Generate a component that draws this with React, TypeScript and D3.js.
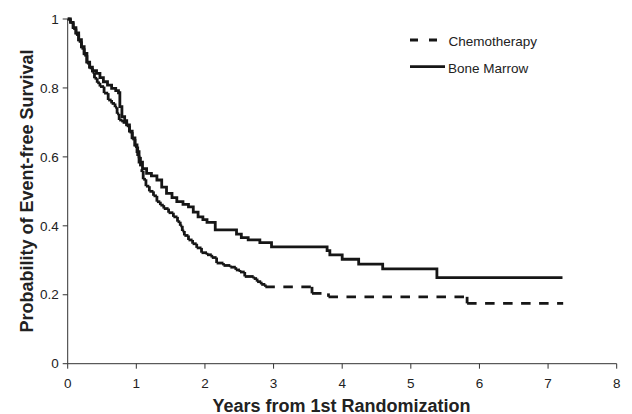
import * as d3 from "d3";

// Kaplan-Meier steps: at time t the survival drops to s
const bmTimes = [0, 0.04, 0.08, 0.12, 0.16, 0.2, 0.24, 0.28, 0.32, 0.36, 0.42, 0.47, 0.52, 0.58, 0.64, 0.7, 0.74, 0.76, 0.79, 0.83, 0.86, 0.9, 0.94, 0.98, 1.01, 1.04, 1.09, 1.15, 1.22, 1.3, 1.37, 1.44, 1.52, 1.59, 1.68, 1.76, 1.83, 1.9, 1.97, 2.03, 2.15, 2.46, 2.53, 2.63, 2.8, 2.97, 3.78, 3.82, 4.0, 4.24, 4.59, 5.38, 7.21];
const bmSurv = [1, 0.99, 0.975, 0.96, 0.94, 0.92, 0.9, 0.875, 0.86, 0.85, 0.842, 0.83, 0.818, 0.808, 0.799, 0.792, 0.786, 0.746, 0.717, 0.705, 0.693, 0.675, 0.655, 0.635, 0.615, 0.585, 0.566, 0.552, 0.545, 0.533, 0.512, 0.494, 0.482, 0.47, 0.462, 0.455, 0.44, 0.426, 0.418, 0.41, 0.388, 0.376, 0.366, 0.359, 0.351, 0.339, 0.328, 0.316, 0.303, 0.289, 0.275, 0.25, 0.25];

const chemoTimes = [0, 0.04, 0.08, 0.12, 0.16, 0.2, 0.24, 0.28, 0.32, 0.36, 0.39, 0.43, 0.47, 0.53, 0.59, 0.64, 0.69, 0.72, 0.75, 0.8, 0.86, 0.9, 0.94, 0.98, 1.02, 1.06, 1.1, 1.14, 1.19, 1.25, 1.3, 1.35, 1.4, 1.47, 1.54, 1.6, 1.64, 1.67, 1.7, 1.76, 1.82, 1.88, 1.95, 2.03, 2.1, 2.17, 2.27, 2.37, 2.45, 2.51, 2.58, 2.71, 2.76, 2.82, 2.88, 3.56, 3.8, 5.82, 7.22];
const chemoSurv = [1, 0.99, 0.972, 0.955, 0.935, 0.915, 0.895, 0.872, 0.858, 0.845, 0.828, 0.815, 0.804, 0.785, 0.765, 0.755, 0.744, 0.725, 0.707, 0.7, 0.69, 0.672, 0.652, 0.63, 0.6, 0.56, 0.535, 0.515, 0.5, 0.487, 0.47, 0.46, 0.45, 0.438, 0.426, 0.412, 0.4, 0.385, 0.372, 0.359, 0.348, 0.336, 0.322, 0.316, 0.308, 0.292, 0.285, 0.28, 0.272, 0.266, 0.253, 0.247, 0.238, 0.23, 0.223, 0.204, 0.194, 0.175, 0.175];

const xTicks = [0, 1, 2, 3, 4, 5, 6, 7, 8];
const yTicks = [0, 0.2, 0.4, 0.6, 0.8, 1];
const legendLabels = ["Chemotherapy", "Bone Marrow"];

const W = 632;
const H = 414;
const INK = "#161616";
const FONT = "'Liberation Sans', Arial, sans-serif";

export default function App() {
  const x = d3.scaleLinear().domain([0, 8]).range([67.7, 616.7]);
  const y = d3.scaleLinear().domain([0, 1]).range([363.7, 19]);

  const bmPts = bmTimes.map((t, i) => [t, bmSurv[i]] as [number, number]);
  const chemoPts = chemoTimes.map((t, i) => [t, chemoSurv[i]] as [number, number]);

  const stepLine = d3
    .line<[number, number]>()
    .x((d) => x(d[0]))
    .y((d) => y(d[1]))
    .curve(d3.curveStepAfter);

  // dashed curve: each step segment restarts the dash pattern (like the original)
  const chemoSegs: [number, number, number, number][] = [];
  for (let i = 0; i < chemoPts.length - 1; i++) {
    const [t0, s0] = chemoPts[i];
    const [t1, s1] = chemoPts[i + 1];
    chemoSegs.push([x(t0), y(s0), x(t1), y(s0)]);
    if (s1 !== s0) chemoSegs.push([x(t1), y(s0), x(t1), y(s1)]);
  }

  return (
    <svg
      width={W}
      height={H}
      style={{ position: "absolute", left: 0, top: 0, background: "#fff" }}
      fontFamily={FONT}
    >
      {/* axes */}
      <g stroke="#333" strokeWidth={1} fill="none">
        <line x1={x(0)} x2={x(0)} y1={y(1)} y2={y(0)} />
        <line x1={x(0)} x2={x(8)} y1={y(0)} y2={y(0)} />
        {yTicks.map((t) => (
          <line key={"yt" + t} x1={x(0) - 5} x2={x(0)} y1={y(t)} y2={y(t)} />
        ))}
        {xTicks.map((t) => (
          <line key={"xt" + t} x1={x(t)} x2={x(t)} y1={y(0)} y2={y(0) + 5} />
        ))}
      </g>
      <g fontSize={13.5} fill="#222">
        {yTicks.map((t) => (
          <text key={"yl" + t} x={x(0) - 9} y={y(t)} dy="0.35em" textAnchor="end">
            {String(t)}
          </text>
        ))}
        {xTicks.map((t) => (
          <text key={"xl" + t} x={x(t)} y={y(0) + 24} textAnchor="middle">
            {String(t)}
          </text>
        ))}
      </g>

      {/* curves */}
      <path d={stepLine(bmPts) || ""} fill="none" stroke={INK} strokeWidth={2.8} />
      <g stroke={INK} strokeWidth={2.8} strokeDasharray="9.5,8.5">
        {chemoSegs.map((s, i) => (
          <line key={i} x1={s[0]} y1={s[1]} x2={s[2]} y2={s[3]} />
        ))}
      </g>

      {/* legend */}
      <line x1={410} x2={437} y1={40} y2={40} stroke={INK} strokeWidth={2.8} strokeDasharray="8,11" />
      <text x={448.5} y={46} fontSize={13.5} fill="#222">{legendLabels[0]}</text>
      <line x1={410} x2={445} y1={66.7} y2={66.7} stroke={INK} strokeWidth={2.8} />
      <text x={448} y={72.5} fontSize={13.5} fill="#222">{legendLabels[1]}</text>

      {/* axis titles */}
      <text x={341.5} y={411.5} textAnchor="middle" fontSize={18} fontWeight="bold" fill="#222">
        Years from 1st Randomization
      </text>
      <text
        transform="translate(33,191) rotate(-90)"
        textAnchor="middle"
        fontSize={18}
        fontWeight="bold"
        fill="#222"
      >
        Probability of Event-free Survival
      </text>
    </svg>
  );
}
